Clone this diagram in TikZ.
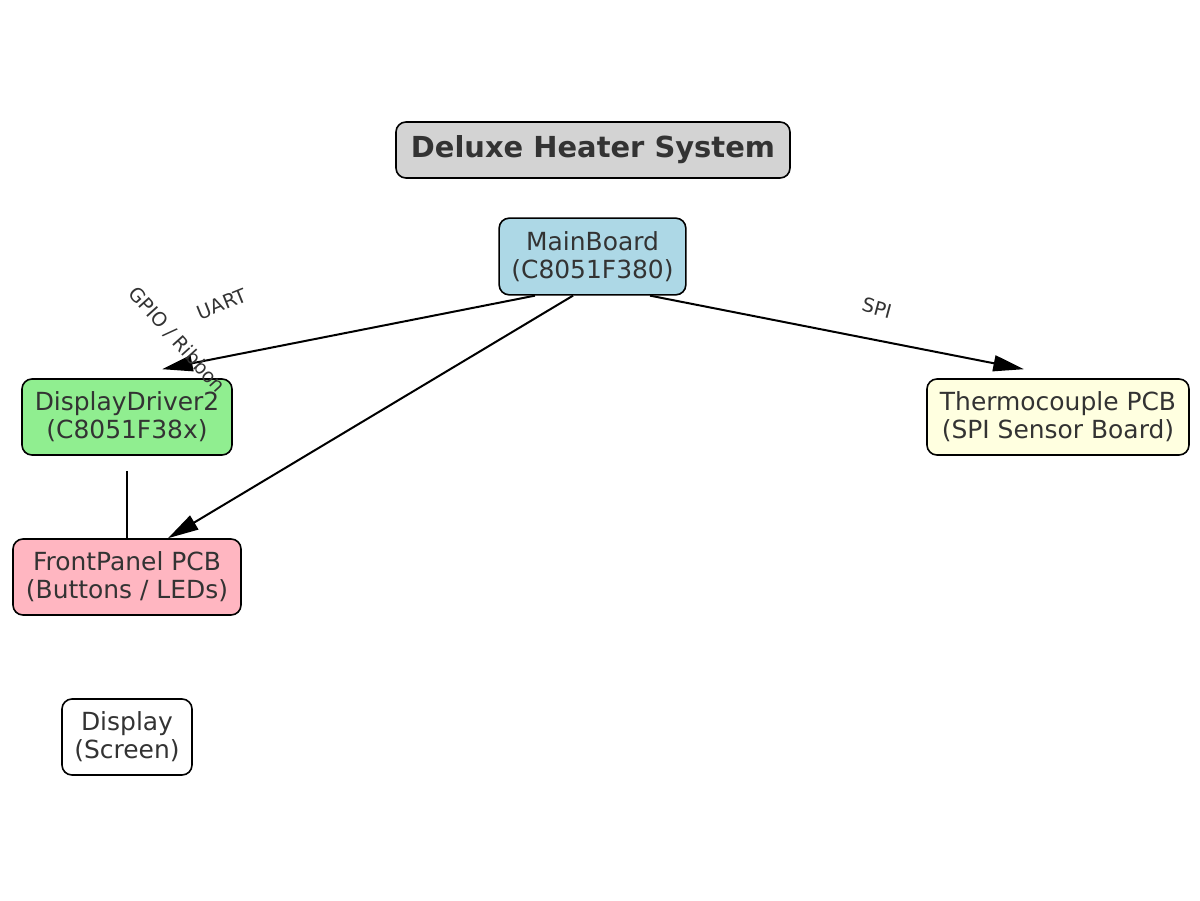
\documentclass[tikz,border=0pt]{standalone}
\usepackage{fontspec}
\setmainfont{DejaVu Sans}
\usetikzlibrary{arrows.meta,calc}
\definecolor{txt}{HTML}{333333}
\definecolor{cmain}{HTML}{ADD8E6}
\definecolor{cdd}{HTML}{90EE90}
\definecolor{cthermo}{HTML}{FFFFE0}
\definecolor{cfp}{HTML}{FFB6C1}
\definecolor{ctitle}{HTML}{D3D3D3}
\tikzset{
  box/.style={draw=black, line width=1.2pt, rounded corners=7.5pt, text=txt,
    align=center, font=\fontsize{18.7}{21}\selectfont, minimum height=57pt, inner sep=0pt},
  conn/.style={line width=1.5pt, draw=black},
  arr/.style={conn, -{Triangle[length=23pt,width=12pt]}},
  elabel/.style={text=txt, font=\fontsize{14.5}{16}\selectfont, inner sep=0pt}
}
\begin{document}
\begin{tikzpicture}[x=0.75pt,y=-0.75pt]
\useasboundingbox (0,0) rectangle (1200,900);
\node[box, fill=ctitle, minimum width=295.5pt, minimum height=42pt,
      font=\fontsize{21.7}{26}\selectfont\bfseries] (title) at (593,150) {Deluxe Heater System};
\node[box, fill=cmain, minimum width=140pt, minimum height=57.5pt] (mb) at (592.5,256.5) {MainBoard\\(C8051F380)};
\node[box, fill=cdd, minimum width=157.5pt] (dd) at (127,417) {DisplayDriver2\\(C8051F38x)};
\node[box, fill=cthermo, minimum width=196.5pt] (tc) at (1058,417) {Thermocouple PCB\\(SPI Sensor Board)};
\node[box, fill=cfp, minimum width=171pt] (fp) at (127,577) {FrontPanel PCB\\(Buttons / LEDs)};
\node[box, fill=white, minimum width=97.5pt] (disp) at (127,737) {Display\\(Screen)};

\coordinate (uartS) at ($(mb.south)+(-57.5,0)$);
\coordinate (uartE) at ($(dd.north)+(35,-9)$);
\coordinate (fpS) at ($(mb.south)+(-19.5,0)$);
\coordinate (fpE) at ($(fp.north)+(41,0)$);
\coordinate (spiS) at ($(mb.south)+(57.5,0)$);
\coordinate (spiE) at ($(tc.north)+(-34,-9)$);
\coordinate (ddS) at ($(dd.south)+(0,15)$);

\draw[arr] (uartS) -- (uartE);
\draw[arr] (fpS) -- (fpE);
\draw[arr] (spiS) -- (spiE);
\draw[conn] (ddS) -- (fp.north);

\node[elabel, rotate=22] (luart) at (222,304) {UART};
\node[elabel, rotate=-15] (lspi) at (877,308) {SPI};
\node[elabel, rotate=-48] (lgpio) at (177,340) {GPIO / Ribbon};
\end{tikzpicture}
\end{document}
